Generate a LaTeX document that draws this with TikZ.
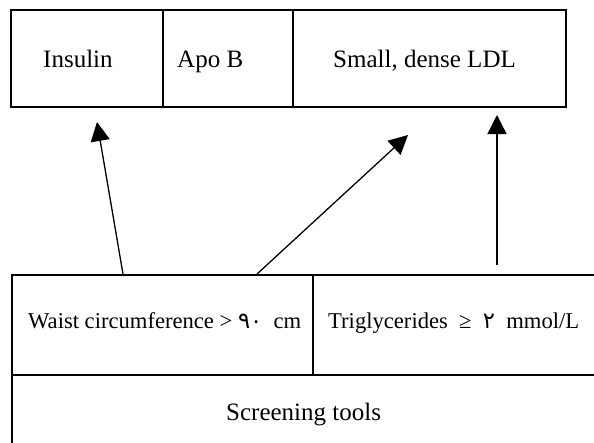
\documentclass[tikz,border=0pt]{standalone}
\usepackage{fontspec}
\setmainfont{Liberation Serif}
\newfontfamily\digitfont{DejaVu Sans}
\usetikzlibrary{arrows.meta}
\begin{document}
\begin{tikzpicture}[x=1pt,y=-1pt,
  cellbox/.style={draw,line width=2pt,inner sep=0pt,outer sep=0pt},
  biglabel/.style={inner sep=0pt,anchor=base west,font=\fontsize{25}{29}\selectfont},
  smalllabel/.style={inner sep=0pt,anchor=base west,font=\fontsize{22.6}{27}\selectfont},
  arr/.style={line width=1.3pt,-{Triangle[length=19pt,width=19pt]}}]
\useasboundingbox (0,0) rectangle (594,442);
\clip (0,0) rectangle (594,442);
% top row
\node[cellbox,minimum width=152pt,minimum height=97pt,anchor=north west] (ins) at (11,10) {};
\node[cellbox,minimum width=130pt,minimum height=97pt,anchor=north west] (apo) at (163,10) {};
\node[cellbox,minimum width=273pt,minimum height=97pt,anchor=north west] (ldl) at (293,10) {};
\node[biglabel] (tins) at (43,67) {Insulin};
\node[biglabel] (tapo) at (177,67) {Apo B};
\node[biglabel] (tldl) at (333,67) {Small, dense LDL};
% bottom rows
\node[cellbox,minimum width=301pt,minimum height=100pt,anchor=north west] (waist) at (12,275) {};
\node[cellbox,minimum width=300pt,minimum height=100pt,anchor=north west] (trig) at (313,275) {};
\node[cellbox,minimum width=600pt,minimum height=100pt,anchor=north west] (scr) at (12,375) {};
\node[smalllabel] (twaist) at (28,328) {Waist circumference > {\digitfont ٩٠}\ \ cm};
\node[smalllabel] (ttrig) at (328,328) {Triglycerides \ ≥ \ {\digitfont ٢}\ \ mmol/L};
\node[biglabel] (tscr) at (226,420) {Screening tools};
% arrows
\coordinate (s1) at (123,274);
\coordinate (e1) at (97,122);
\coordinate (s2) at (257,274);
\coordinate (e2) at (408,135);
\coordinate (s3) at (497,265);
\coordinate (e3) at (497,115);
\draw[arr] (s1) -- (e1);
\draw[arr] (s2) -- (e2);
\draw[arr] (s3) -- (e3);
\end{tikzpicture}
\end{document}
